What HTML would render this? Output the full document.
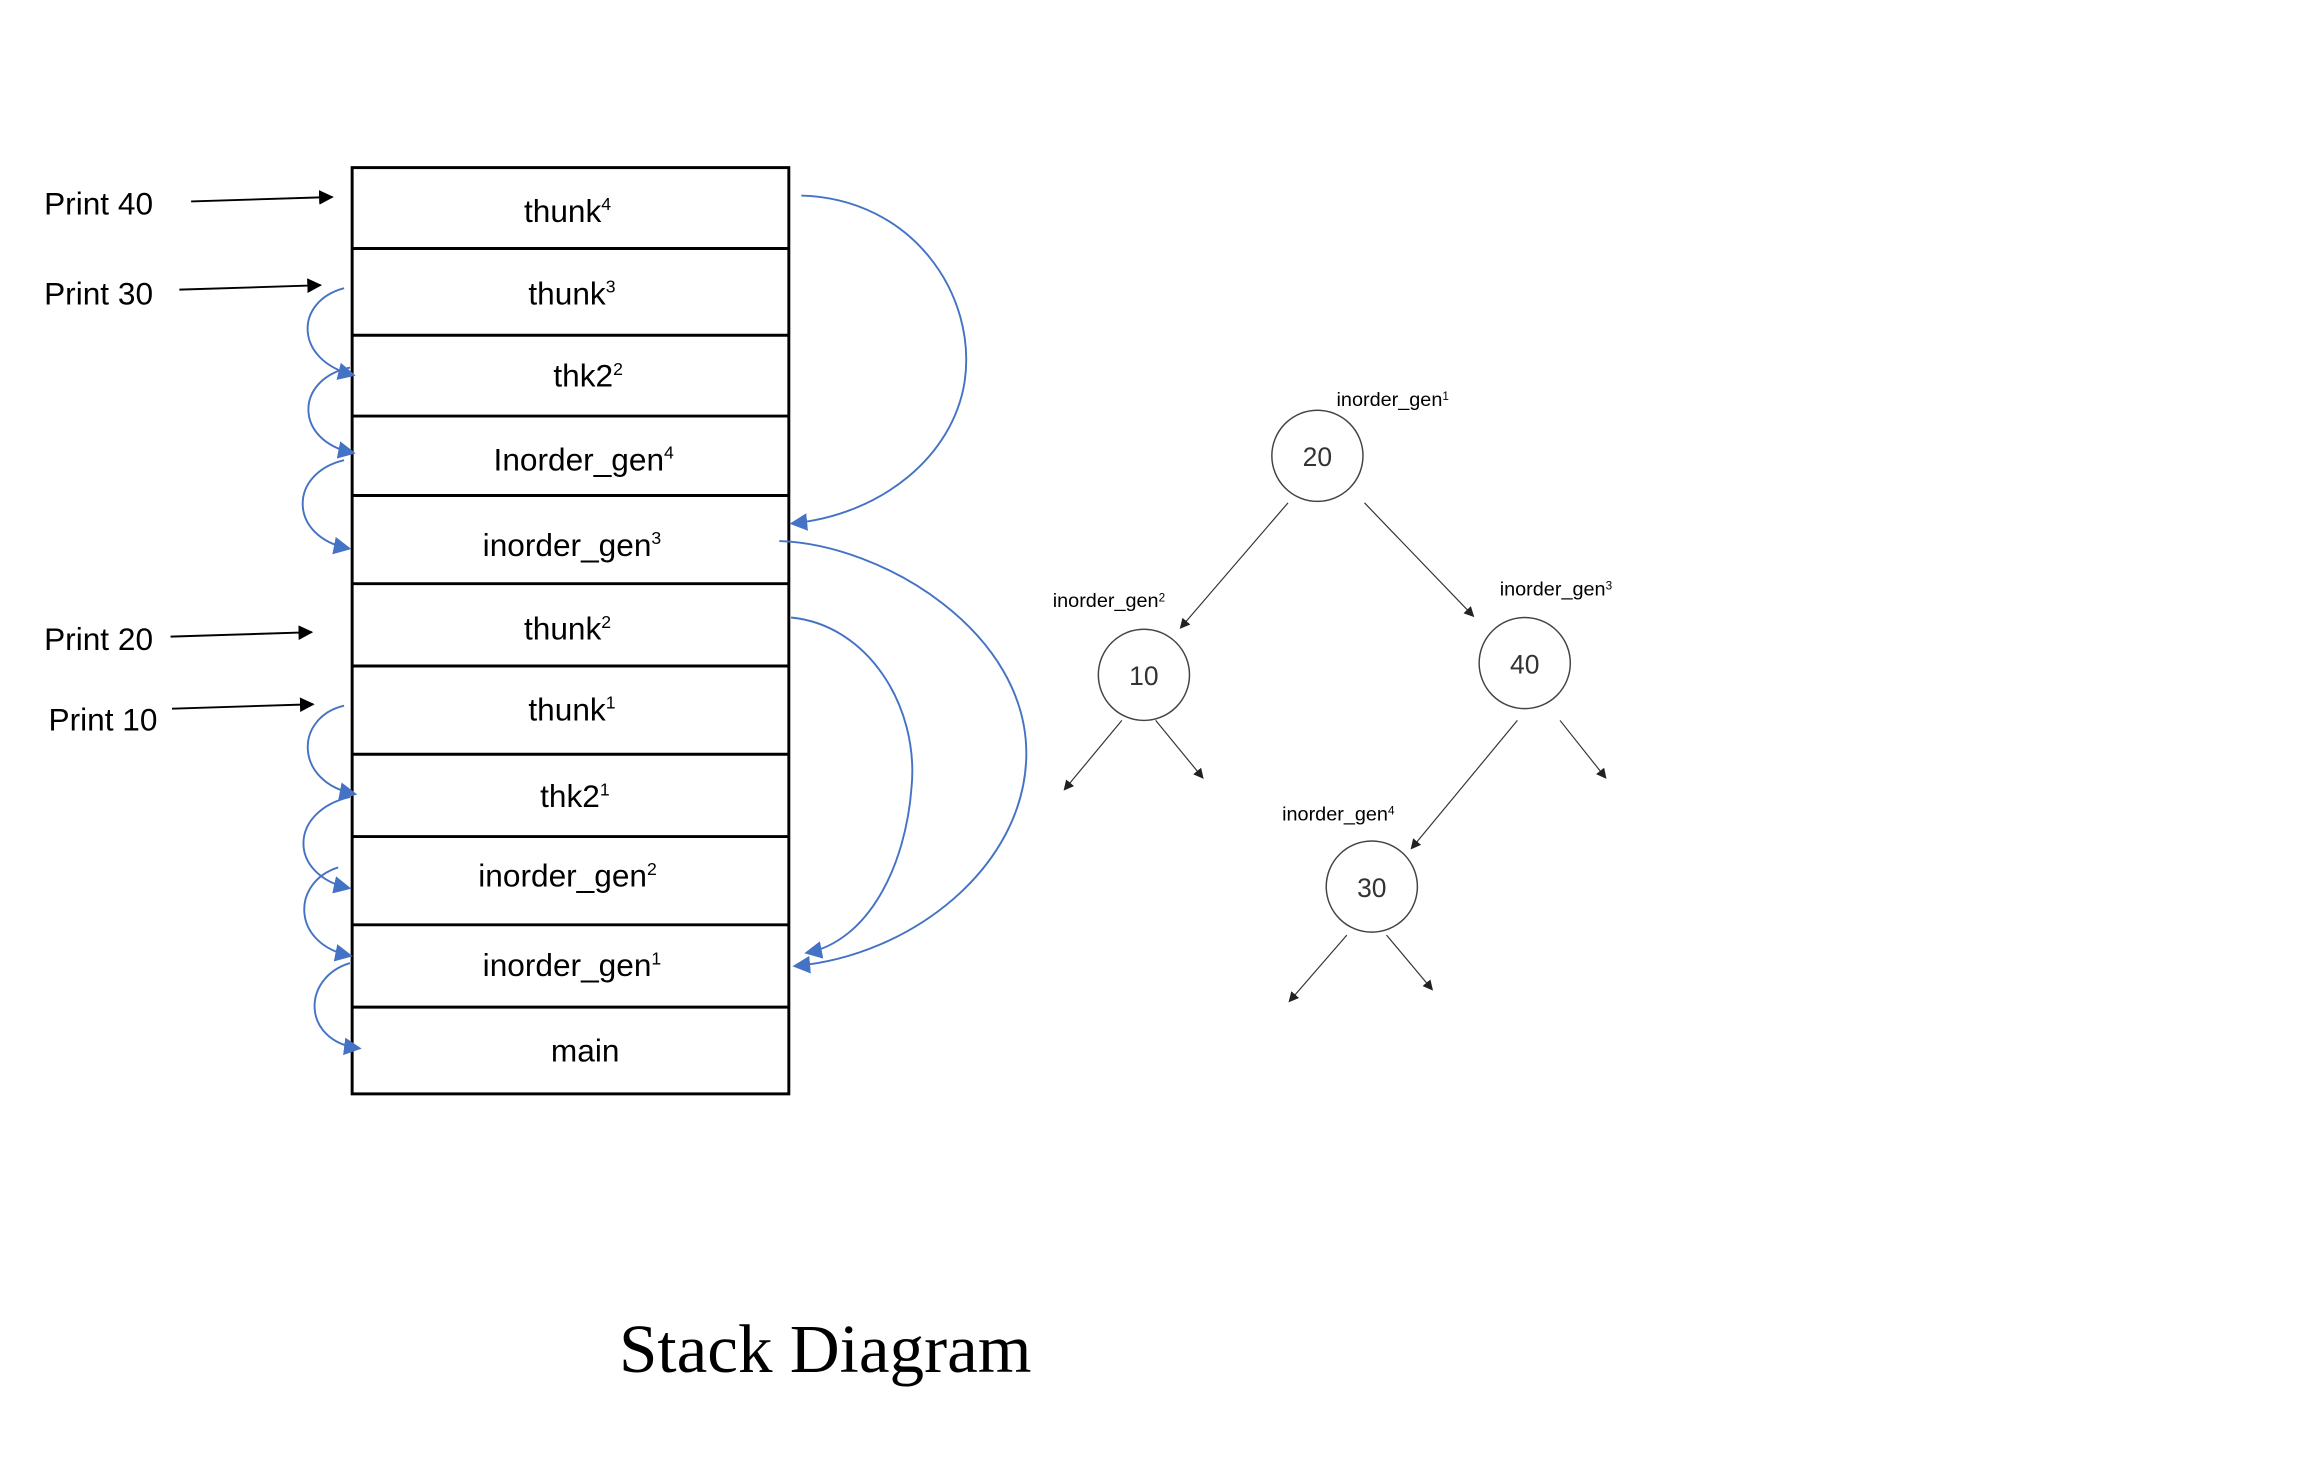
<!DOCTYPE html>
<html><head><meta charset="utf-8"><style>
html,body{margin:0;padding:0;background:#fff;width:2304px;height:1471px;overflow:hidden}
svg{display:block}
.s{font-family:"Liberation Sans",sans-serif;font-size:21.5px;fill:#000}
.t{font-family:"Liberation Sans",sans-serif;font-size:13.5px;fill:#000}
.n{font-family:"Liberation Sans",sans-serif;font-size:18px;fill:#333}
.b{fill:none;stroke:#4472C4;stroke-width:1.3}
.k{stroke:#333;stroke-width:0.8;fill:none}
</style></head><body>
<svg width="2304" height="1471" viewBox="0 0 1567 1000.5" preserveAspectRatio="none">
<defs>
<marker id="ab" markerWidth="10" markerHeight="10" refX="9" refY="5" orient="auto" markerUnits="userSpaceOnUse"><path d="M0,0 L10,5 L0,10 z" fill="#000"/></marker>
<marker id="bb" markerWidth="12" markerHeight="12" refX="10" refY="6" orient="auto" markerUnits="userSpaceOnUse"><path d="M0,0 L12,6 L0,12 z" fill="#4472C4"/></marker>
<marker id="sm" markerWidth="7" markerHeight="7" refX="6" refY="3.5" orient="auto" markerUnits="userSpaceOnUse"><path d="M0,0 L7,3.5 L0,7 z" fill="#222"/></marker>
</defs>
<rect x="239.5" y="114" width="297" height="630" fill="none" stroke="#000" stroke-width="2"/>
<g stroke="#000" stroke-width="2">
<line x1="239" y1="169" x2="537" y2="169"/><line x1="239" y1="228" x2="537" y2="228"/>
<line x1="239" y1="283" x2="537" y2="283"/><line x1="239" y1="337" x2="537" y2="337"/>
<line x1="239" y1="397" x2="537" y2="397"/><line x1="239" y1="453" x2="537" y2="453"/>
<line x1="239" y1="513" x2="537" y2="513"/><line x1="239" y1="569" x2="537" y2="569"/>
<line x1="239" y1="629" x2="537" y2="629"/><line x1="239" y1="685" x2="537" y2="685"/>
</g>
<g class="s" text-anchor="middle">
<text x="386" y="151">thunk<tspan font-size="12" dy="-8">4</tspan></text>
<text x="389" y="207">thunk<tspan font-size="12" dy="-8">3</tspan></text>
<text x="400" y="263">thk2<tspan font-size="12" dy="-8">2</tspan></text>
<text x="397" y="320">Inorder_gen<tspan font-size="12" dy="-8">4</tspan></text>
<text x="389" y="378">inorder_gen<tspan font-size="12" dy="-8">3</tspan></text>
<text x="386" y="435">thunk<tspan font-size="12" dy="-8">2</tspan></text>
<text x="389" y="490">thunk<tspan font-size="12" dy="-8">1</tspan></text>
<text x="391" y="549">thk2<tspan font-size="12" dy="-8">1</tspan></text>
<text x="386" y="603">inorder_gen<tspan font-size="12" dy="-8">2</tspan></text>
<text x="389" y="664">inorder_gen<tspan font-size="12" dy="-8">1</tspan></text>
<text x="398" y="722">main</text>
</g>
<g class="s">
<text x="30" y="146">Print 40</text>
<text x="30" y="207">Print 30</text>
<text x="30" y="442">Print 20</text>
<text x="33" y="497">Print 10</text>
</g>
<g stroke="#000" stroke-width="1.3" marker-end="url(#ab)">
<line x1="130" y1="137" x2="226" y2="134"/>
<line x1="122" y1="197" x2="218" y2="194"/>
<line x1="116" y1="433" x2="212" y2="430"/>
<line x1="117" y1="482" x2="213" y2="479"/>
</g>
<g class="b" marker-end="url(#bb)">
<path d="M545,133 C620,135 665,200 656,260 C648,310 600,350 539,356"/>
<path d="M530,368 C600,370 700,430 698,515 C696,590 620,650 541,657"/>
<path d="M538,420 C590,425 625,480 620,535 C616,590 590,640 549,648"/>
<path d="M234,196 C200,205 200,245 240,255"/>
<path d="M238,250 C200,258 200,300 240,308"/>
<path d="M234,313 C196,322 196,365 237,373"/>
<path d="M234,480 C200,488 200,532 241,540"/>
<path d="M238,542 C196,552 196,595 237,604"/>
<path d="M230,590 C198,600 198,642 238,650"/>
<path d="M238,655 C205,665 205,708 244,713"/>
</g>
<g fill="none" stroke="#444" stroke-width="1">
<circle cx="896" cy="310" r="31"/>
<circle cx="778" cy="459" r="31"/>
<circle cx="1037" cy="451" r="31"/>
<circle cx="933" cy="603" r="31"/>
</g>
<g class="n" text-anchor="middle">
<text x="896" y="317">20</text><text x="778" y="466">10</text>
<text x="1037" y="458">40</text><text x="933" y="610">30</text>
</g>
<g class="t">
<text x="909" y="276">inorder_gen<tspan font-size="8" dy="-4">1</tspan></text>
<text x="716" y="413">inorder_gen<tspan font-size="8" dy="-4">2</tspan></text>
<text x="1020" y="405">inorder_gen<tspan font-size="8" dy="-4">3</tspan></text>
<text x="872" y="558">inorder_gen<tspan font-size="8" dy="-4">4</tspan></text>
</g>
<g class="k" marker-end="url(#sm)">
<line x1="876" y1="342" x2="803" y2="427"/>
<line x1="928" y1="342" x2="1002" y2="419"/>
<line x1="763" y1="490" x2="724" y2="537"/>
<line x1="786" y1="490" x2="818" y2="529"/>
<line x1="1032" y1="490" x2="960" y2="577"/>
<line x1="1061" y1="490" x2="1092" y2="529"/>
<line x1="916" y1="636" x2="877" y2="681"/>
<line x1="943" y1="636" x2="974" y2="673"/>
</g>
<text x="421" y="933" font-family="'Liberation Serif',serif" font-size="47" fill="#000">Stack Diagram</text>
</svg>
</body></html>
